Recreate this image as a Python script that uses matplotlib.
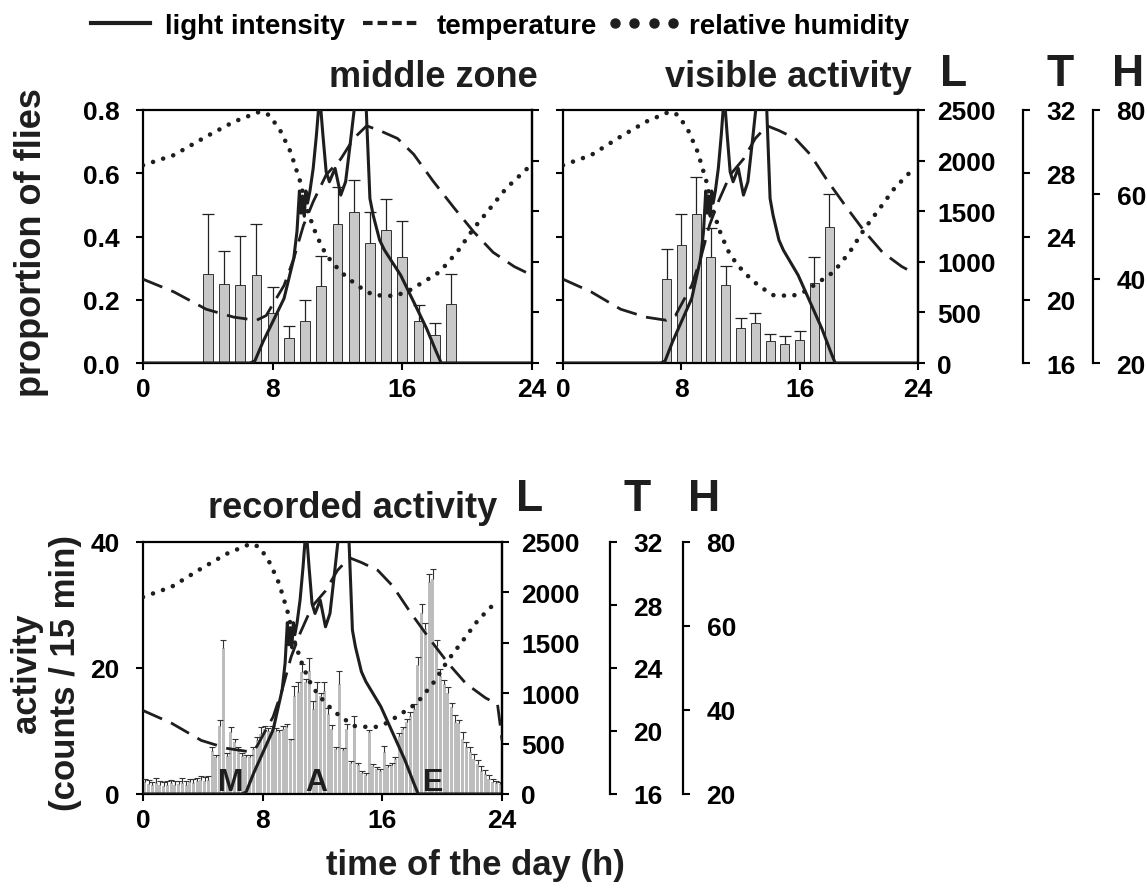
import matplotlib
matplotlib.use("Agg")
import matplotlib.pyplot as plt
from matplotlib.lines import Line2D
import numpy as np

plt.rcParams.update({
    "font.family": "Liberation Sans",
    "font.weight": "bold",
    "axes.linewidth": 1.6,
    "xtick.major.width": 1.5, "ytick.major.width": 1.5,
    "xtick.major.size": 5, "ytick.major.size": 5,
    "xtick.direction": "out", "ytick.direction": "out",
    "xtick.labelsize": 19, "ytick.labelsize": 19,
})
K = "#1e1e1e"
W, H = 1147, 895

# environmental curves (shared by all panels)
light_h = [0, 6.6, 6.9, 7.4, 8.0, 8.7, 9.3, 9.5, 9.65, 9.75, 9.85, 9.95, 10.05, 10.15, 10.3,
           10.5, 10.7, 10.9, 11.1, 11.3, 11.5, 11.85, 12.2, 12.5, 12.8, 13.1, 13.4, 13.75,
           14.0, 14.2, 14.6, 14.9, 15.9, 16.7, 17.5, 18.1, 18.4, 24]
light_v = [0, 0, 20, 208, 406, 637, 1032, 1300, 1700, 1480, 1650, 1450, 1700, 1580, 1700,
           1923, 2253, 2650, 2253, 1890, 1791, 1923, 1659, 1791, 2187, 2600, 2900, 2600,
           1626, 1461, 1214, 1115, 867, 604, 340, 109, 0, 0]
temp_h = [0, 1.9, 3.9, 5.6, 7.0, 7.6, 8.0, 8.7, 9.3, 9.9, 10.5, 11.3, 12.2, 13.0, 13.8,
          14.6, 15.7, 16.7, 17.9, 19.2, 20.4, 21.6, 22.9, 23.7]
temp_v = [21.3, 20.5, 19.4, 18.9, 18.7, 19.0, 19.7, 20.9, 22.6, 24.7, 26.2, 27.9, 28.9, 30.2,
          31.0, 30.7, 30.2, 29.2, 27.5, 25.8, 24.3, 23.0, 22.1, 21.7]
temp_tail_h = [23.85, 24.0]
temp_tail_v = [20.6, 19.4]
hum_h = [0, 1.9, 3.9, 5.6, 7.2, 7.8, 8.5, 9.1, 9.7, 10.1, 10.7, 11.3, 12.2, 13.2, 14.2,
         15.5, 16.3, 17.3, 18.3, 19.4, 20.4, 21.4, 22.4, 23.7]
hum_v = [66.9, 69.3, 73.7, 77.2, 79.6, 78.8, 74.9, 70.1, 63.0, 56.6, 50.3, 45.6, 41.6, 38.4,
         36.1, 35.9, 36.9, 39.2, 41.6, 46.4, 51.9, 56.6, 61.4, 66.1]

# middle zone (proportion of flies)
mid_h = [4, 5, 6, 7, 8, 9, 10, 11, 12, 13, 14, 15, 16, 17, 18, 19]
mid = [0.28, 0.251, 0.248, 0.279, 0.159, 0.079, 0.134, 0.244, 0.438, 0.478, 0.381, 0.421,
       0.336, 0.134, 0.088, 0.185]
mid_err = [0.19, 0.104, 0.155, 0.161, 0.081, 0.038, 0.066, 0.095, 0.119, 0.102, 0.097,
           0.097, 0.113, 0.049, 0.038, 0.096]

# visible activity
vis_h = [7, 8, 9, 10, 11, 12, 13, 14, 15, 16, 17, 18]
vis = [0.265, 0.374, 0.472, 0.334, 0.246, 0.111, 0.126, 0.069, 0.060, 0.073, 0.254, 0.430]
vis_err = [0.096, 0.097, 0.115, 0.093, 0.061, 0.031, 0.031, 0.022, 0.025, 0.027, 0.081, 0.103]

# recorded activity, 15-min bins
act = [1.9, 1.6, 1.4, 1.8, 1.5, 1.3, 1.5, 1.7, 1.4, 1.6, 1.8, 1.5, 1.9, 1.7, 2.0, 2.2,
       2.0, 2.3, 6.9, 5.8, 10.8, 23.2, 6.0, 9.8, 8.2, 6.9, 6.1, 5.9, 5.9, 7.1, 8.5, 9.5,
       10.3, 10.0, 10.3, 10.0, 9.8, 10.3, 10.7, 8.5, 15.6, 16.2, 19.3, 17.7, 19.6, 13.5, 16.7, 15.5,
       16.3, 12.7, 10.3, 7.1, 17.5, 7.0, 10.3, 5.0, 10.8, 4.6, 3.4, 3.0, 9.8, 4.5, 4.0, 3.7,
       6.6, 4.3, 4.6, 5.5, 9.2, 10.3, 11.4, 12.4, 13.5, 20.4, 28.8, 26.2, 33.6, 34.1, 23.5, 18.8,
       17.5, 16.1, 13.8, 11.4, 11.2, 8.7, 7.4, 6.6, 5.6, 4.8, 3.7, 3.2, 2.4, 1.9, 1.7, 1.6]
act_err = [0.5, 0.6, 0.5, 0.7, 0.5, 0.6, 0.6, 0.5, 0.6, 0.5, 0.7, 0.6, 0.5, 0.7, 0.6, 0.6,
           0.7, 0.6, 0.6, 0.4, 1.0, 1.3, 0.5, 0.8, 0.6, 0.5, 0.4, 0.3, 0.3, 0.4, 0.6, 1.2,
           0.5, 0.4, 0.5, 0.4, 0.3, 0.5, 0.4, 0.3, 1.5, 1.6, 1.3, 0.5, 2.0, 1.2, 1.1, 0.5,
           1.5, 0.9, 0.6, 0.4, 2.0, 0.3, 0.8, 0.3, 1.6, 0.3, 0.3, 0.3, 0.4, 0.3, 0.3, 0.3,
           1.0, 0.3, 0.4, 0.4, 0.5, 0.4, 0.5, 0.6, 0.8, 1.3, 1.4, 1.0, 1.3, 1.6, 1.0, 1.0,
           0.6, 0.9, 0.7, 1.2, 0.6, 1.1, 0.8, 0.8, 0.8, 0.6, 0.7, 0.6, 0.6, 0.5, 0.4, 0.3]
act_h = [i * 0.25 + 0.125 for i in range(len(act))]

fig = plt.figure(figsize=(W / 100, H / 100), dpi=100)


def px_axes(x0, y0, x1, y1):
    return fig.add_axes([x0 / W, 1 - y1 / H, (x1 - x0) / W, (y1 - y0) / H])


def up_err(ax, x, y, e, color, lw, cap):
    _, caps, _ = ax.errorbar(x, y, yerr=[np.zeros(len(e)), e], fmt="none", ecolor=color,
                             elinewidth=lw, capsize=cap, capthick=lw, zorder=3)
    caps[0].set_visible(False)


def env(ax, scales, tail=False, t_pos=None, h_pos=None):
    axL = ax.twinx()
    axL.plot(light_h, light_v, color=K, lw=2.2)
    axL.set_ylim(0, 2500)
    axL.set_yticks([0, 500, 1000, 1500, 2000, 2500])
    axT = ax.twinx()
    th, tv = (temp_h + temp_tail_h, temp_v + temp_tail_v) if tail else (temp_h, temp_v)
    axT.plot(th, tv, color=K, lw=2.0, dashes=(7.5, 3.5))
    axT.set_ylim(16, 32)
    axH = ax.twinx()
    axH.plot(hum_h, hum_v, color=K, lw=3.3, linestyle=(0, (0.01, 2.3)), dash_capstyle="round")
    axH.set_ylim(20, 80)
    for a in (axL, axT, axH):
        for s in ("left", "top", "bottom"):
            a.spines[s].set_visible(False)
        a.set_xlim(0, 24)
    if scales:
        axL.tick_params(axis="y", pad=9)
        axT.spines["right"].set_position(("axes", t_pos))
        axT.set_yticks([16, 20, 24, 28, 32])
        axT.tick_params(axis="y", pad=12)
        axH.spines["right"].set_position(("axes", h_pos))
        axH.set_yticks([20, 40, 60, 80])
        axH.tick_params(axis="y", pad=12)
    else:
        axL.tick_params(labelright=False)
        axT.axis("off")
        axH.axis("off")


def base(ax):
    ax.set_xlim(0, 24)
    ax.set_xticks([0, 8, 16, 24])
    ax.tick_params(axis="x", pad=5)
    ax.tick_params(axis="y", pad=12)


# top-left: middle zone
ax1 = px_axes(143, 111, 532, 364)
ax1.bar(mid_h, mid, width=0.6, color="#c8c8c8", edgecolor="#333333", lw=0.7, zorder=2)
up_err(ax1, mid_h, mid, mid_err, "#222222", 0.9, 4)
base(ax1)
ax1.set_ylim(0, 0.8)
ax1.set_yticks([0, 0.2, 0.4, 0.6, 0.8])
ax1.set_yticklabels(["0.0", "0.2", "0.4", "0.6", "0.8"])
ax1.tick_params(axis="y", right=True)
env(ax1, False)

# top-right: visible activity
ax2 = px_axes(563, 111, 918, 364)
ax2.bar(vis_h, vis, width=0.6, color="#c8c8c8", edgecolor="#333333", lw=0.7, zorder=2)
up_err(ax2, vis_h, vis, vis_err, "#222222", 0.9, 4)
base(ax2)
ax2.set_ylim(0, 0.8)
ax2.set_yticks([0, 0.2, 0.4, 0.6, 0.8])
ax2.tick_params(axis="y", labelleft=False)
env(ax2, True, t_pos=(1023 - 563) / 355, h_pos=(1093 - 563) / 355)

# bottom: recorded activity
ax3 = px_axes(143, 543, 502, 795)
ax3.bar(act_h, act, width=0.2, color="#bdbdbd", lw=0, zorder=2)
up_err(ax3, act_h, act, act_err, "#333333", 0.8, 2.5)
base(ax3)
ax3.set_ylim(0, 40)
ax3.set_yticks([0, 20, 40])
for lab, x in (("M", 5.85), ("A", 11.6), ("E", 19.4)):
    ax3.text(x, 0.6, lab, ha="center", va="baseline", fontsize=22, color=K, zorder=6)
env(ax3, True, tail=True, t_pos=(610 - 143) / 359, h_pos=(683 - 143) / 359)

# titles and scale headers
fig.text(538 / W, 1 - 87 / H, "middle zone", ha="right", va="baseline", fontsize=26, color=K)
fig.text(912 / W, 1 - 87 / H, "visible activity", ha="right", va="baseline", fontsize=26, color=K)
fig.text(497 / W, 1 - 518 / H, "recorded activity", ha="right", va="baseline", fontsize=26, color=K)
for lab, x, y in (("L", 954, 75), ("T", 1060, 75), ("H", 1128, 75),
                  ("L", 530, 500), ("T", 637, 500), ("H", 704, 500)):
    fig.text(x / W, 1 - y / H, lab, ha="center", va="center", fontsize=32, color=K)

fig.text(32 / W, 1 - 243 / H, "proportion of flies", rotation=90, ha="center", va="center",
         fontsize=26, color=K)
fig.text(46 / W, 1 - 673 / H, "activity\n(counts / 15 min)", rotation=90, ha="center",
         va="center", fontsize=25, color=K, multialignment="center")
fig.text(475 / W, 1 - 866 / H, "time of the day (h)", ha="center", va="center", fontsize=25, color=K)

# legend
handles = [Line2D([], [], color=K, lw=3),
           Line2D([], [], color=K, lw=3, dashes=(2.3, 1.2)),
           Line2D([], [], color=K, lw=0, marker="o", ms=6.5)]
fig.legend(handles, ["light intensity", "temperature", "relative humidity"], ncol=3,
           loc="upper left", bbox_to_anchor=(83 / W, 1 - 14 / H), frameon=False,
           fontsize=20, handlelength=2.7, handletextpad=0.25, columnspacing=0.35,
           numpoints=4, borderpad=0, borderaxespad=0)

fig.savefig("out.png", dpi=100)
